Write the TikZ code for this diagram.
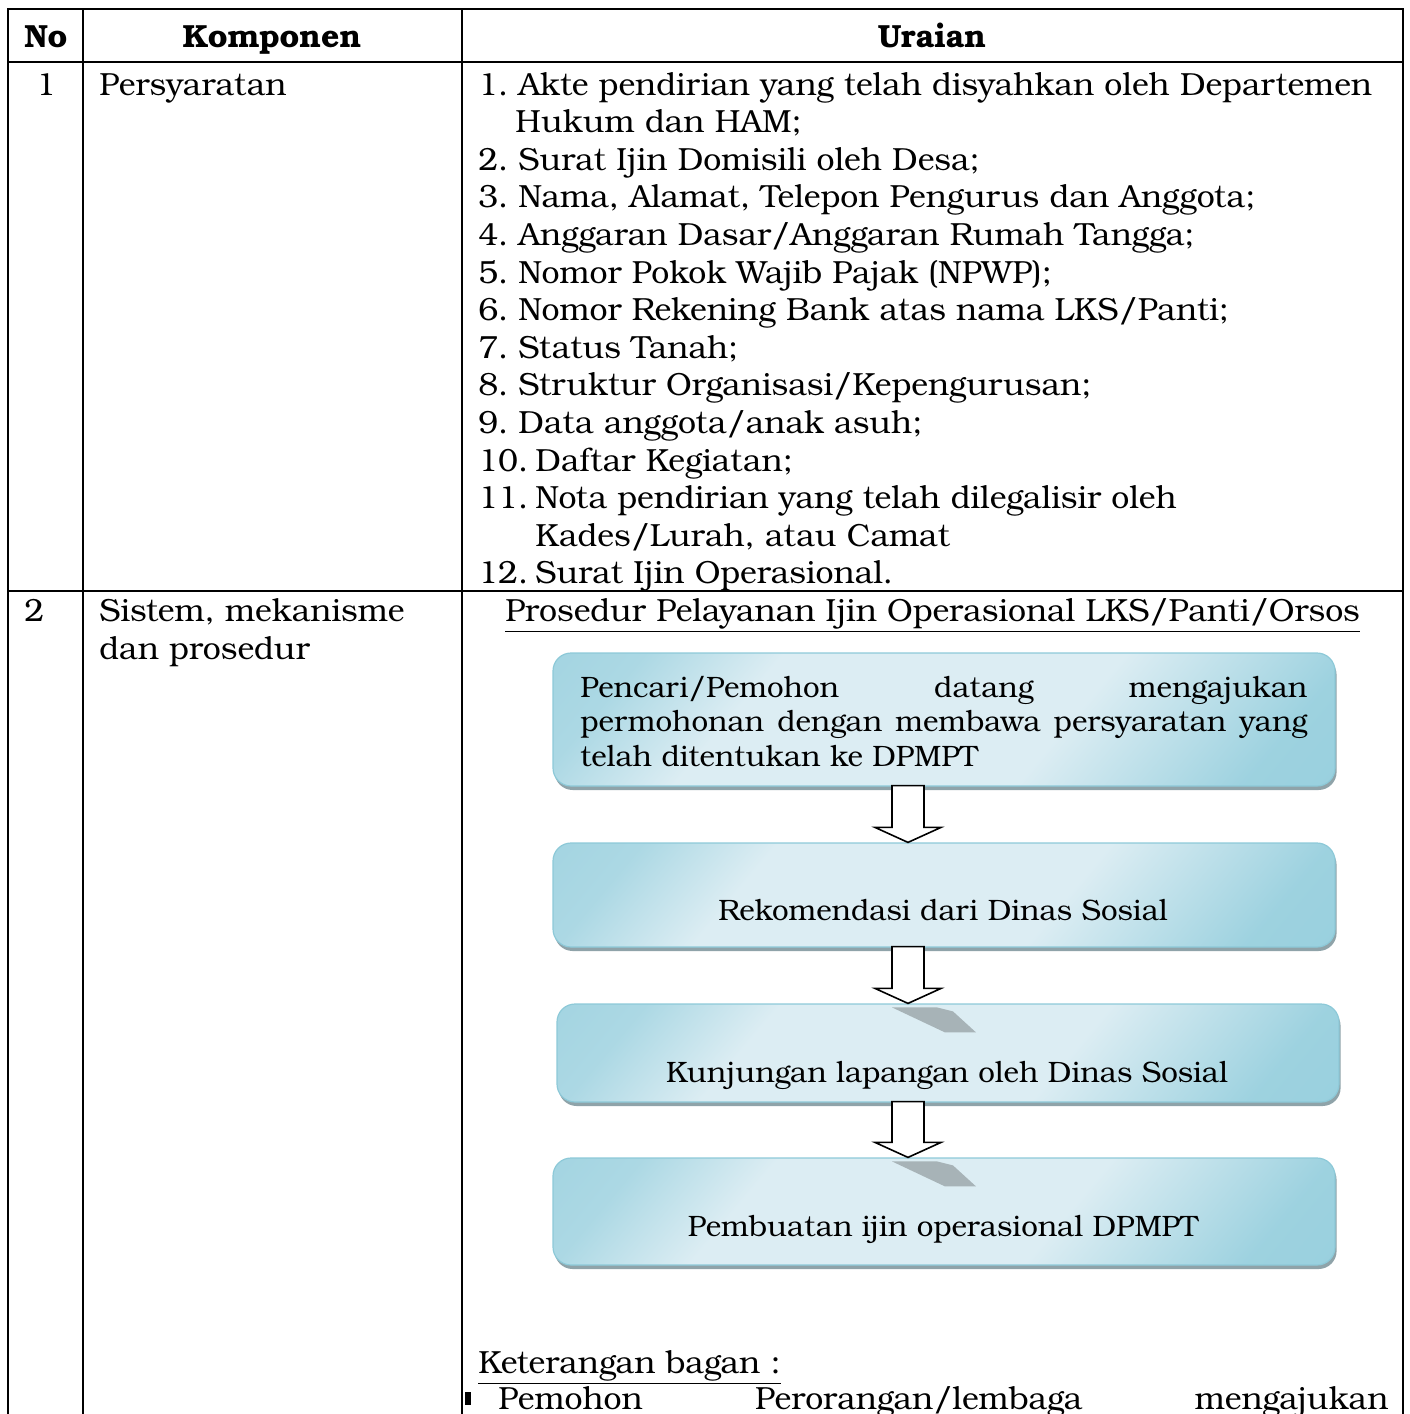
\documentclass[tikz,border=0pt]{standalone}
\usepackage{fontspec}
\setmainfont{texgyrebonum}[Extension=.otf, UprightFont=*-regular, BoldFont=*-bold]
\usetikzlibrary{calc, shadows, positioning}

\definecolor{boxlight}{HTML}{DCEDF3}
\definecolor{boxdark}{HTML}{92CDDC}
\definecolor{boxedge}{HTML}{8DC9D8}
\definecolor{boxshadow}{HTML}{8FA3A9}
\definecolor{bandgray}{HTML}{A7B3B7}
\pgfdeclarehorizontalshading{boxshade}{100bp}{color(0bp)=(boxdark); color(22bp)=(boxdark!65!boxlight); color(33bp)=(boxlight); color(60bp)=(boxlight); color(78bp)=(boxdark!85!boxlight); color(100bp)=(boxdark)}

\newcommand{\mainsize}{\fontsize{16}{19}\selectfont}
\newcommand{\boxsize}{\fontsize{14.75}{17}\selectfont}
\newcommand{\fullline}[1]{\makebox[363.5pt][s]{#1}}

\tikzset{
  cell/.style={anchor=base west, inner sep=0pt},
  head/.style={anchor=base, inner sep=0pt, font=\mainsize\bfseries},
  boxtext/.style={inner sep=0pt, font=\boxsize},
  stepbox/.style={rounded corners=9pt, draw=boxedge, line width=0.6pt,
    shading=boxshade, shading angle=-40, minimum width=391pt,
    drop shadow={shadow xshift=0.8pt, shadow yshift=-2pt, fill=boxshadow, opacity=1}},
  blockarr/.style={draw=black, fill=white, line width=0.8pt},
  band/.style={fill=bandgray, draw=none},
}

\begin{document}
\begin{tikzpicture}[x=0.5pt, y=-0.5pt, font=\mainsize]
  \useasboundingbox (0,0) rectangle (1409,1414);
  \clip (0,0) rectangle (1409,1414);

  % table grid
  \draw[line width=1pt] (8,1414) -- (8,9) -- (1403,9) -- (1403,1414);
  \draw[line width=1pt] (8,62) -- (1403,62);
  \draw[line width=1pt] (8,591) -- (1403,591);
  \draw[line width=1pt] (83,9) -- (83,1414);
  \draw[line width=1pt] (462,9) -- (462,1414);

  % header
  \node[head] (hNo) at (46,47) {No};
  \node[head] (hKomp) at (272,47) {Komponen};
  \node[head] (hUrai) at (932,47) {Uraian};

  % row 1
  \node[anchor=base, inner sep=0pt] (r1) at (46,95) {1};
  \node[cell] (k1) at (99,95) {Persyaratan};
  \foreach \num/\ln/\tx/\txt in {
      1/0/518/{Akte pendirian yang telah disyahkan oleh Departemen},
      2/2/518/{Surat Ijin Domisili oleh Desa;},
      3/3/518/{Nama, Alamat, Telepon Pengurus dan Anggota;},
      4/4/518/{Anggaran Dasar/Anggaran Rumah Tangga;},
      5/5/518/{Nomor Pokok Wajib Pajak (NPWP);},
      6/6/518/{Nomor Rekening Bank atas nama LKS/Panti;},
      7/7/518/{Status Tanah;},
      8/8/518/{Struktur Organisasi/Kepengurusan;},
      9/9/518/{Data anggota/anak asuh;},
      10/10/535/{Daftar Kegiatan;},
      11/11/535/{Nota pendirian yang telah dilegalisir oleh},
      12/13/535/{Surat Ijin Operasional.}}
  {
    \node[cell] (n\num) at (478,95+37.6*\ln) {\num.};
    \node[cell] (i\num) at (\tx,95+37.6*\ln) {\txt};
  }
  \node[cell] (i1b) at (515,95+37.6) {Hukum dan HAM;};
  \node[cell] (i11b) at (535,95+37.6*12) {Kades/Lurah, atau Camat};

  % row 2
  \node[cell] (r2) at (24,621) {2};
  \node[cell] (k2) at (99,621) {Sistem, mekanisme};
  \node[cell] (k2b) at (99,659) {dan prosedur};
  \node[cell] (title) at (505,621) {\underline{Prosedur Pelayanan Ijin Operasional LKS/Panti/Orsos}};

  % flow boxes
  \node[stepbox, minimum height=66.5pt] (b1) at (944,719.5) {};
  \node[stepbox, minimum height=52pt] (b2) at (944,895) {};
  \node[stepbox, minimum height=49pt] (b3) at (948,1053) {};
  \node[stepbox, minimum height=53.5pt] (b4) at (944,1211.5) {};

  \node[boxtext, anchor=base west] (t1a) at (580,697) {\fullline{Pencari/Pemohon datang mengajukan}};
  \node[boxtext, anchor=base west] (t1b) at (580,731) {\fullline{permohonan dengan membawa persyaratan yang}};
  \node[boxtext, anchor=base west] (t1c) at (580,766) {telah ditentukan ke DPMPT};
  \node[boxtext, anchor=base] (t2) at (943,920) {Rekomendasi dari Dinas Sosial};
  \node[boxtext, anchor=base] (t3) at (947,1082) {Kunjungan lapangan oleh Dinas Sosial};
  \node[boxtext, anchor=base] (t4) at (943,1236) {Pembuatan ijin operasional DPMPT};

  % block arrows
  \coordinate (ax) at (908,0);
  \foreach \a/\b in {b1/b2, b2/b3, b3/b4}
    \draw[blockarr] ($(ax|-\a.south)+(-16,-1)$) -- ($(ax|-\b.north)+(-16,-15)$)
      -- ($(ax|-\b.north)+(-33,-15)$) -- (ax|-\b.north)
      -- ($(ax|-\b.north)+(33,-15)$) -- ($(ax|-\b.north)+(16,-15)$)
      -- ($(ax|-\a.south)+(16,-1)$) -- cycle;
  \foreach \b in {b3, b4}
    \fill[band] ($(ax|-\b.north)+(-16,4)$) -- ($(ax|-\b.north)+(29,4)$)
      -- ($(ax|-\b.north)+(45,8)$) -- ($(ax|-\b.north)+(68,29)$)
      -- ($(ax|-\b.north)+(37,29)$) -- cycle;

  % notes
  \node[cell] (note) at (478,1373) {\underline{Keterangan bagan :}};
  \node[fill=black, inner sep=0pt, minimum width=3pt, minimum height=6.5pt] (bul) at (467.5,1398) {};
  \node[cell] (note1) at (498,1409) {\makebox[445pt][s]{Pemohon Perorangan/lembaga mengajukan}};
\end{tikzpicture}
\end{document}
